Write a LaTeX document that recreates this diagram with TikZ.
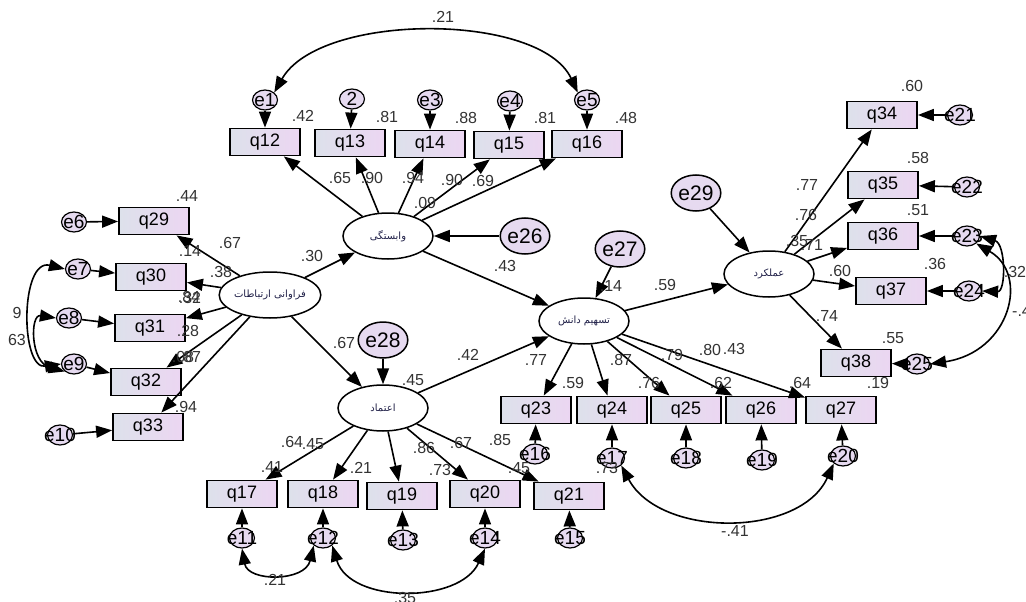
\documentclass[tikz,border=0pt]{standalone}
\usepackage{fontspec}
\setmainfont{Liberation Sans}
\newfontfamily\arabicfont[Script=Arabic]{DejaVu Sans}
\TeXXeTstate=1
\usetikzlibrary{shapes.geometric,arrows.meta}
\definecolor{boxL}{HTML}{DDE1EB}
\definecolor{boxR}{HTML}{ECD6F2}
\definecolor{errc}{HTML}{E6DAF0}
\definecolor{lbc}{HTML}{333333}
\definecolor{lattxt}{HTML}{202048}
\begin{document}
\begin{tikzpicture}[x=1pt,y=-1pt,
 obs/.style={rectangle, draw, line width=1.8pt, minimum width=70pt, minimum height=27pt, inner sep=0, left color=boxL, right color=boxR, font=\fontsize{18}{18}\selectfont},
 lat/.style={ellipse, draw, line width=1.5pt, fill=white, minimum width=90pt, minimum height=46pt, inner sep=0, font=\arabicfont\fontsize{10}{10}\selectfont, text=lattxt},
 errB/.style={ellipse, draw, line width=1.5pt, fill=errc, minimum width=44pt, minimum height=36pt, inner sep=0, font=\fontsize{21}{21}\selectfont},
 errS/.style={ellipse, draw, line width=1.2pt, fill=errc, minimum width=25pt, minimum height=20pt, inner sep=0},
 etxt/.style={label={[font=\fontsize{19}{19}\selectfont, inner sep=0]center:#1}},
 ar/.style={line width=1.6pt, -{Triangle[length=16pt,width=12pt]}},
 cov/.style={line width=1.6pt, {Triangle[length=16pt,width=12pt]}-{Triangle[length=16pt,width=12pt]}},
 lb/.style={font=\fontsize{16}{16}\selectfont, text=lbc, inner sep=0},
]
\useasboundingbox (0,0) rectangle (1026,602);
% latent variables
\node[lat] (F) at (270,295) {\beginR فراوانی ارتباطات\endR};
\node[lat] (V) at (388,236) {\beginR وابستگی\endR};
\node[lat] (E) at (383,408) {\beginR اعتماد\endR};
\node[lat] (T) at (584,321) {\beginR تسهیم دانش\endR};
\node[lat] (A) at (769,274) {\beginR عملکرد\endR};
% big error terms
\node[errB] (e26) at (525,236) {e26};
\node[errB] (e27) at (620,249) {e27};
\node[errB] (e28) at (383,340) {e28};
\node[errB] (e29) at (696,193) {e29};
% top indicators
\node[obs] (q12) at (265,142) {q12};
\node[obs] (q13) at (350,143) {q13};
\node[obs] (q14) at (430,144) {q14};
\node[obs] (q15) at (509,145) {q15};
\node[obs] (q16) at (587,144) {q16};
\node[errS,etxt=e1] (e1) at (265,100) {};
\node[errS,etxt=2] (e2) at (352,99) {};
\node[errS,etxt=e3] (e3) at (430,100) {};
\node[errS,etxt=e4] (e4) at (510,101) {};
\node[errS,etxt=e5] (e5) at (587,100) {};
% left indicators
\node[obs] (q29) at (154,221) {q29};
\node[obs] (q30) at (151,277) {q30};
\node[obs] (q31) at (150,328) {q31};
\node[obs] (q32) at (146,382) {q32};
\node[obs] (q33) at (148,427) {q33};
\node[errS,etxt=e6] (e6) at (74,222) {};
\node[errS,etxt=e7] (e7) at (78,269) {};
\node[errS,etxt=e8] (e8) at (69,318) {};
\node[errS,etxt=e9] (e9) at (74,364) {};
\node[errS,etxt=e10] (e10) at (60,435) {};
% right indicators
\node[obs] (q34) at (882,115) {q34};
\node[obs] (q35) at (883,185) {q35};
\node[obs] (q36) at (883,236) {q36};
\node[obs] (q37) at (891,291) {q37};
\node[obs] (q38) at (856,363) {q38};
\node[errS,etxt=e21] (e21) at (960,115) {};
\node[errS,etxt=e22] (e22) at (967,187) {};
\node[errS,etxt=e23] (e23) at (967,236) {};
\node[errS,etxt=e24] (e24) at (969,291) {};
\node[errS,etxt=e25] (e25) at (917,364) {};
% knowledge sharing indicators
\node[obs] (q23) at (536,410) {q23};
\node[obs] (q24) at (612,410) {q24};
\node[obs] (q25) at (686,410) {q25};
\node[obs] (q26) at (761,410) {q26};
\node[obs] (q27) at (841,410) {q27};
\node[errS,etxt=e16] (e16) at (535,454) {};
\node[errS,etxt=e17] (e17) at (612,458) {};
\node[errS,etxt=e18] (e18) at (686,458) {};
\node[errS,etxt=e19] (e19) at (762,460) {};
\node[errS,etxt=e20] (e20) at (843,456) {};
% trust indicators
\node[obs] (q17) at (242,494) {q17};
\node[obs] (q18) at (323,494) {q18};
\node[obs] (q19) at (402,496) {q19};
\node[obs] (q20) at (485,494) {q20};
\node[obs] (q21) at (569,496) {q21};
\node[errS,etxt=e11] (e11) at (242,538) {};
\node[errS,etxt=e12] (e12) at (323,538) {};
\node[errS,etxt=e13] (e13) at (403,540) {};
\node[errS,etxt=e14] (e14) at (485,538) {};
\node[errS,etxt=e15] (e15) at (570,538) {};
% structural paths
\draw[ar] (F) -- (V);
\draw[ar] (F) -- (E);
\draw[ar] (V) -- (T);
\draw[ar] (E) -- (T);
\draw[ar] (T) -- (A);
\draw[ar] (e26) -- (V);
\draw[ar] (e27) -- (T);
\draw[ar] (e28) -- (E);
\draw[ar] (e29) -- (A);
% loadings
\foreach \q in {q12,q13,q14,q15,q16} \draw[ar] (V) -- (\q);
\foreach \q in {q29,q30,q31,q32,q33} \draw[ar] (F) -- (\q);
\foreach \q in {q34,q35,q36,q37,q38} \draw[ar] (A) -- (\q);
\foreach \q in {q23,q24,q25,q26,q27} \draw[ar] (T) -- (\q);
\foreach \q in {q17,q18,q19,q20,q21} \draw[ar] (E) -- (\q);
% error arrows
\foreach \e/\q in {e1/q12,e2/q13,e3/q14,e4/q15,e5/q16,e6/q29,e7/q30,e8/q31,e9/q32,e10/q33,e21/q34,e22/q35,e23/q36,e24/q37,e25/q38,e16/q23,e17/q24,e18/q25,e19/q26,e20/q27,e11/q17,e12/q18,e13/q19,e14/q20,e15/q21}
  \draw[ar] (\e) -- (\q);
% covariances
\draw[cov] (e1.north east) .. controls (320,12) and (540,12) .. (e5.north west);
\draw[cov] (e7.west) .. controls (20,258) and (20,370) .. (e9.west);
\draw[cov] (e8.west) .. controls (30,314) and (30,362) .. (e9.south west);
\draw[cov] (e23.east) .. controls (1006,244) and (1006,292) .. (e24.east);
\draw[cov] (e23.south east) .. controls (1030,275) and (1010,352) .. (e25.east);
\draw[cov] (e11.south) .. controls (248,582) and (305,582) .. (e12.south west);
\draw[cov] (e12.south east) .. controls (350,604) and (460,604) .. (e14.south);
\draw[cov] (e17.south east) .. controls (660,538) and (800,538) .. (e20.south west);
% labels
\node[lb] (l1) at (443,17) {.21};
\node[lb] (l2) at (303,116) {.42};
\node[lb] (l3) at (387,117) {.81};
\node[lb] (l4) at (466,118) {.88};
\node[lb] (l5) at (545,118) {.81};
\node[lb] (l6) at (626,118) {.48};
\node[lb] (l7) at (187,196) {.44};
\node[lb] (l8) at (230,243) {.67};
\node[lb] (l9) at (190,251) {.14};
\node[lb] (l10) at (221,272) {.38};
\node[lb] (l11) at (189,297) {.84};
\node[lb] (l12) at (190,298) {.32};
\node[lb] (l13) at (188,331) {.28};
\node[lb] (l14) at (183,357) {.08};
\node[lb] (l15) at (190,357) {.87};
\node[lb] (l16) at (186,407) {.94};
\node[lb] (l17) at (17,313) {9};
\node[lb] (l18) at (17,340) {63};
\node[lb] (l19) at (312,256) {.30};
\node[lb] (l20) at (340,178) {.65};
\node[lb] (l21) at (372,178) {.90};
\node[lb] (l22) at (413,178) {.94};
\node[lb] (l23) at (452,180) {.90};
\node[lb] (l24) at (483,181) {.69};
\node[lb] (l25) at (425,203) {.09};
\node[lb] (l26) at (505,266) {.43};
\node[lb] (l27) at (344,343) {.67};
\node[lb] (l28) at (413,380) {.45};
\node[lb] (l29) at (468,355) {.42};
\node[lb] (l30) at (611,286) {.14};
\node[lb] (l31) at (665,285) {.59};
\node[lb] (l32) at (912,86) {.60};
\node[lb] (l33) at (807,185) {.77};
\node[lb] (l34) at (918,158) {.58};
\node[lb] (l35) at (806,215) {.76};
\node[lb] (l36) at (918,210) {.51};
\node[lb] (l37) at (797,241) {.35};
\node[lb] (l38) at (812,245) {.71};
\node[lb] (l39) at (935,264) {.36};
\node[lb] (l40) at (840,271) {.60};
\node[lb] (l41) at (827,316) {.74};
\node[lb] (l42) at (893,338) {.55};
\node[lb] (l43) at (878,383) {.19};
\node[lb] (l44) at (1015,272) {.32};
\node[lb,anchor=west] (l45) at (1012,311) {-.41};
\node[lb] (l46) at (536,360) {.77};
\node[lb] (l47) at (573,383) {.59};
\node[lb] (l48) at (621,360) {.87};
\node[lb] (l49) at (649,383) {.76};
\node[lb] (l50) at (672,355) {.79};
\node[lb] (l51) at (710,350) {.80};
\node[lb] (l52) at (734,349) {.43};
\node[lb] (l53) at (721,383) {.62};
\node[lb] (l54) at (800,383) {.64};
\node[lb] (l55) at (607,468) {.73};
\node[lb] (l56) at (500,440) {.85};
\node[lb] (l57) at (519,468) {.45};
\node[lb] (l58) at (735,531) {-.41};
\node[lb] (l59) at (292,442) {.64};
\node[lb] (l60) at (313,444) {.45};
\node[lb] (l61) at (272,467) {.41};
\node[lb] (l62) at (361,468) {.21};
\node[lb] (l63) at (424,448) {.86};
\node[lb] (l64) at (461,443) {.67};
\node[lb] (l65) at (440,470) {.73};
\node[lb] (l66) at (275,580) {.21};
\node[lb] (l67) at (405,598) {.35};
\end{tikzpicture}
\end{document}
